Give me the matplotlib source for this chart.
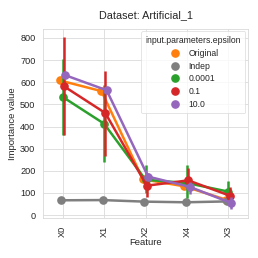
import numpy as np
import matplotlib
matplotlib.use("Agg")
import matplotlib.pyplot as plt
import seaborn as sns

sns.set_style("whitegrid")
plt.rcParams['font.family'] = ['Liberation Sans', 'DejaVu Sans']

features = ["X0", "X1", "X2", "X4", "X3"]
levels = ["Original", "Indep", "0.0001", "0.1", "10.0"]
colors = ["#ff7f0e", "#7f7f7f", "#2ca02c", "#d62728", "#9467bd"]

mean_original = [608, 560, 162, 130, 70]
mean_indep = [67, 68, 61, 58, 62]
mean_eps_0001 = [534, 413, 160, 145, 106]
mean_eps_01 = [582, 461, 133, 157, 88]
mean_eps_10 = [632, 564, 174, 128, 55]

lo_original = [np.nan] * 5
hi_original = [np.nan] * 5
lo_indep = [np.nan] * 5
hi_indep = [np.nan] * 5
lo_eps_0001 = [363, 238, 100, 76, 75]
hi_eps_0001 = [706, 586, 228, 228, 155]
lo_eps_01 = [362, 265, 80, 116, 60]
hi_eps_01 = [806, 650, 190, 212, 125]
lo_eps_10 = [np.nan, np.nan, 160, 95, 28]
hi_eps_10 = [np.nan, np.nan, 188, 150, 80]

means = [mean_original, mean_indep, mean_eps_0001, mean_eps_01, mean_eps_10]
los = [lo_original, lo_indep, lo_eps_0001, lo_eps_01, lo_eps_10]
his = [hi_original, hi_indep, hi_eps_0001, hi_eps_01, hi_eps_10]

fig = plt.figure(figsize=(2.58, 2.58), dpi=100)
ax = fig.add_axes([0.167, 0.155, 0.794, 0.733])

n = len(levels)
dodge = 0.025 * n
offsets = np.linspace(0, dodge, n) - dodge / 2
base = np.arange(len(features))

for i, (lab, c) in enumerate(zip(levels, colors)):
    x = base + offsets[i]
    m = np.array(means[i], dtype=float)
    lo = np.array(los[i], dtype=float)
    hi = np.array(his[i], dtype=float)
    for xi, l, h in zip(x, lo, hi):
        if not np.isnan(l):
            ax.plot([xi, xi], [l, h], color=c, lw=1.8, solid_capstyle='butt', zorder=2 + i)
    ax.plot(x, m, color=c, lw=1.8, marker='o', ms=5.2, label=lab, zorder=2 + i)

ax.set_xticks(base)
ax.set_xticklabels(features, rotation=90)
ax.set_xlim(-0.47, 4.47)
ax.set_ylim(-13, 841)
ax.set_yticks(np.arange(0, 801, 100))
ax.grid(True, color='.86', lw=0.6)
for s in ax.spines.values():
    s.set_color('.85')
    s.set_linewidth(0.6)
ax.tick_params(labelsize=6.6, colors='.15', pad=2)
ax.set_xlabel("Feature", fontsize=6.8, labelpad=1, color='.15')
ax.set_ylabel("Importance value", fontsize=6.8, labelpad=2, color='.15')
ax.set_title("Dataset: Artificial_1", fontsize=7.8, pad=8, color='.15')

leg = ax.legend(title="input.parameters.epsilon", fontsize=6.2, title_fontsize=6.2,
                loc='upper right', frameon=True, handlelength=1.5,
                labelspacing=0.45, borderpad=0.5, borderaxespad=0.3)
leg.get_frame().set_edgecolor('.85')
leg.get_frame().set_linewidth(0.6)
for h in leg.legend_handles:
    h.set_linestyle('none')

fig.savefig("out.png", dpi=100)
